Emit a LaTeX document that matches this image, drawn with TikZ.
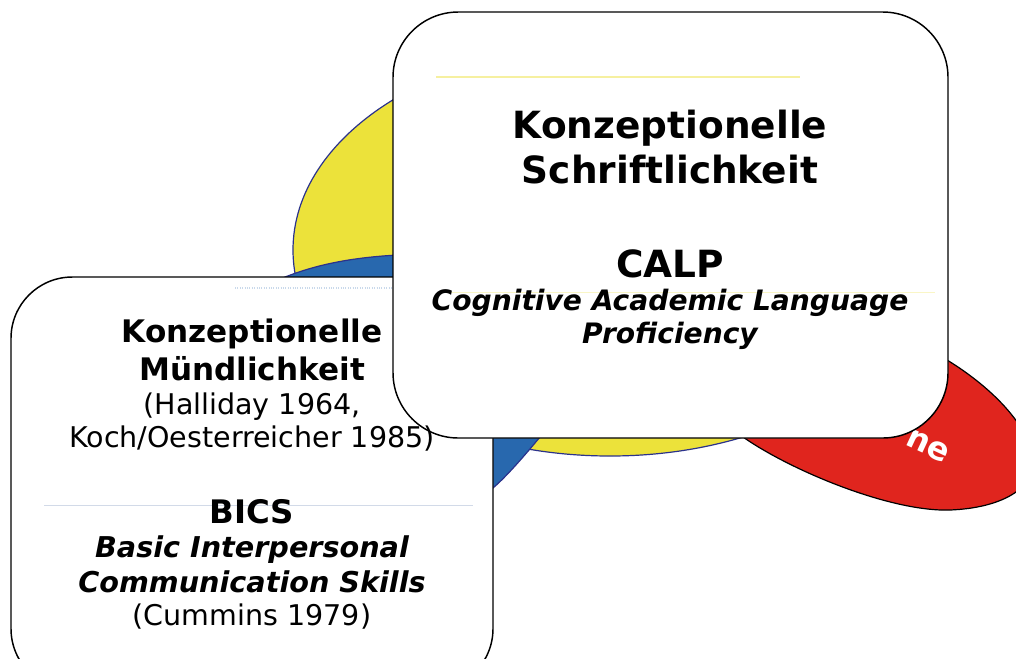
\documentclass[tikz,border=0pt]{standalone}
\usepackage{fontspec}
\setmainfont{DejaVu Sans}
\definecolor{yel}{RGB}{236,226,58}
\definecolor{blu}{RGB}{40,104,174}
\definecolor{rd}{RGB}{224,37,30}
\definecolor{navy}{RGB}{43,50,140}
\definecolor{paleyel}{RGB}{246,240,160}
\definecolor{palegrey}{RGB}{210,218,232}
\begin{document}
\begin{tikzpicture}[x=0.75pt,y=-0.75pt,
  card/.style={draw=black, line width=1.1pt, fill=white},
  bigbold/.style={font=\fontsize{28.1}{34}\selectfont\bfseries, anchor=base, inner sep=0pt},
  midbold/.style={font=\fontsize{23.3}{28}\selectfont\bfseries, anchor=base, inner sep=0pt},
  bicsbold/.style={font=\fontsize{24.3}{28}\selectfont\bfseries, anchor=base, inner sep=0pt},
  bolditTop/.style={font=\fontsize{21.1}{26}\selectfont\bfseries\itshape, anchor=base, inner sep=0pt},
  boldit/.style={font=\fontsize{21.5}{26}\selectfont\bfseries\itshape, anchor=base, inner sep=0pt},
  reftext/.style={font=\fontsize{21.4}{26}\selectfont, anchor=base, inner sep=0pt}]
\useasboundingbox (0,0) rectangle (1016,658);
\clip (0,0) rectangle (1016,658);
% background shapes
\draw[fill=yel, draw=navy, line width=0.9pt] (610,250) ellipse [x radius=317, y radius=206];
\draw[fill=rd, draw=black, line width=0.9pt]
  (700,400) -- (743,437) .. controls (790,470) and (890,512) .. (950,510)
  .. controls (1000,508) and (1030,490) .. (1035,465)
  .. controls (1030,420) and (980,380) .. (947,360) -- (900,340) -- cycle;
\node[font=\fontsize{24}{28}\selectfont\bfseries, text=white, rotate=-25, inner sep=0pt] (redlabel) at (928,446) {ne};
\draw[fill=blu, draw=navy, line width=0.9pt]
  (240,300) .. controls (300,262) and (360,256) .. (420,254) -- (560,300)
  .. controls (570,380) and (560,420) .. (540,437)
  .. controls (525,455) and (507,476) .. (493,488) -- (440,540) -- cycle;
% cards
\draw[card, rounded corners=46pt] (11,277) rectangle (493,690);
\draw[densely dotted, blu!25, line width=0.8pt] (235,288) -- (392,288);
\draw[palegrey, line width=0.6pt] (44,505) -- (473,505);
\draw[card, rounded corners=49pt] (393,12) rectangle (948,438);
\draw[paleyel, line width=0.8pt] (436,77) -- (800,77);
\draw[paleyel!60, line width=0.5pt] (440,292) -- (935,292);
% texts top-right card
\node[bigbold] (t1) at (670,138) {Konzeptionelle};
\node[bigbold] (t2) at (670,183) {Schriftlichkeit};
\node[bigbold] (t3) at (670,277) {CALP};
\node[bolditTop] (t4) at (670,310) {Cognitive Academic Language};
\node[bolditTop] (t5) at (670,343) {Proficiency};
% texts left card
\node[midbold] (l1) at (252,342) {Konzeptionelle};
\node[midbold] (l2) at (252,380) {Mündlichkeit};
\node[reftext] (l3) at (252,414) {(Halliday 1964,};
\node[reftext] (l4) at (252,447) {Koch/Oesterreicher 1985)};
\node[bicsbold] (l5) at (252,523) {BICS};
\node[boldit] (l6) at (252,557) {Basic Interpersonal};
\node[boldit] (l7) at (252,592) {Communication Skills};
\node[reftext] (l8) at (252,625) {(Cummins 1979)};
\end{tikzpicture}
\end{document}
